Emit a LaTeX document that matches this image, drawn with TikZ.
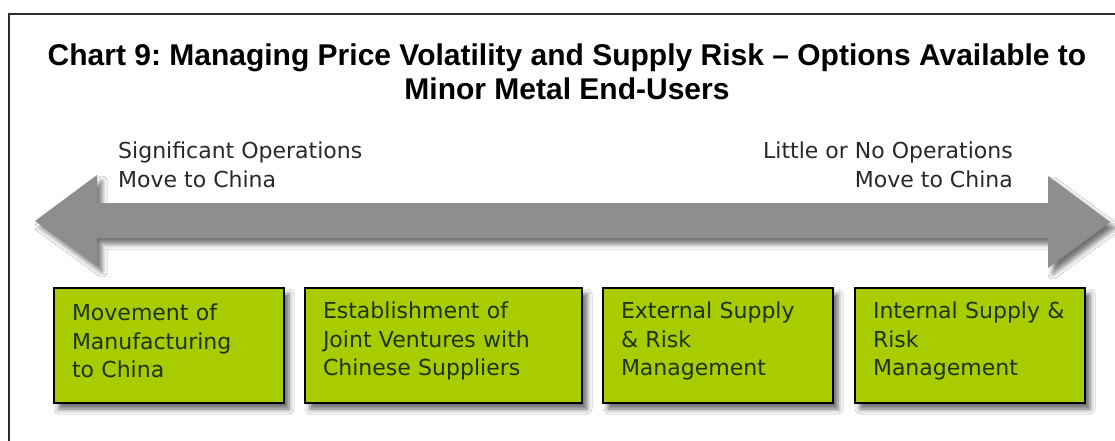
\documentclass[tikz,border=0pt]{standalone}
\usepackage{fontspec}
\setmainfont{DejaVu Sans}
\newfontfamily\titlefont{Liberation Sans}
\usetikzlibrary{shadows.blur}
\frenchspacing

\definecolor{framegray}{RGB}{45,45,45}
\definecolor{arrowgray}{RGB}{142,142,142}
\definecolor{boxgreen}{RGB}{168,204,0}
\definecolor{boxtext}{RGB}{30,52,6}
\definecolor{labeltext}{RGB}{40,40,40}

\tikzset{
  optionbox/.style={draw=black, line width=1.6pt, fill=boxgreen,
    minimum height=115pt, inner xsep=18pt, inner ysep=0pt,
    align=left, text=boxtext,
    font=\frenchspacing\fontsize{22}{28.5}\selectfont,
    execute at end node={\par\vspace*{9pt}},
    blur shadow={shadow xshift=5pt, shadow yshift=-6pt,
      shadow blur radius=5pt, shadow opacity=60}},
  sidelabel/.style={inner sep=0pt, text=labeltext,
    font=\fontsize{22}{29}\selectfont},
  headline/.style={inner sep=0pt, align=center,
    font=\titlefont\bfseries\frenchspacing\fontsize{30}{35}\selectfont}
}

\begin{document}
\begin{tikzpicture}[x=1pt, y=-1pt]
  \useasboundingbox (0,0) rectangle (1115,441);
  \fill[white] (0,0) rectangle (1115,441);

  % outer frame (top and left edges)
  \draw[framegray, line width=2pt] (9,441) -- (9,14) -- (1115,14);

  % heading (base anchor sits on the last line)
  \node[headline, anchor=base] (title) at (567,100)
    {Chart 9: Managing Price Volatility and Supply Risk \textendash{} Options Available to\\
     Minor Metal End-Users};

  % double-headed scale arrow
  \path[fill=arrowgray,
        blur shadow={shadow xshift=5pt, shadow yshift=-6pt,
          shadow blur radius=5pt, shadow opacity=55}]
    (35,221) -- (97,175) -- (97,203) -- (1048,203) -- (1048,176)
    -- (1110,222) -- (1048,268) -- (1048,238) -- (97,238) -- (97,266) -- cycle;

  % arrow end labels
  \node[sidelabel, anchor=base west, align=left] (left) at (118,187)
    {Significant Operations\\Move to China};
  \node[sidelabel, anchor=base east, align=right] (right) at (1013,187)
    {Little or No Operations\\Move to China};

  % option boxes
  \node[optionbox, minimum width=230pt, text width=194pt] (b1) at (169,345.5)
    {Movement of\\Manufacturing\\to China};
  \node[optionbox, minimum width=277pt, text width=241pt] (b2) at (443.5,345.5)
    {Establishment of\\Joint Ventures with\\Chinese Suppliers};
  \node[optionbox, minimum width=230pt, text width=194pt] (b3) at (718,345.5)
    {External Supply\\\& Risk\\Management};
  \node[optionbox, minimum width=230pt, text width=194pt] (b4) at (970,345.5)
    {Internal Supply \&\\Risk\\Management};
\end{tikzpicture}
\end{document}
